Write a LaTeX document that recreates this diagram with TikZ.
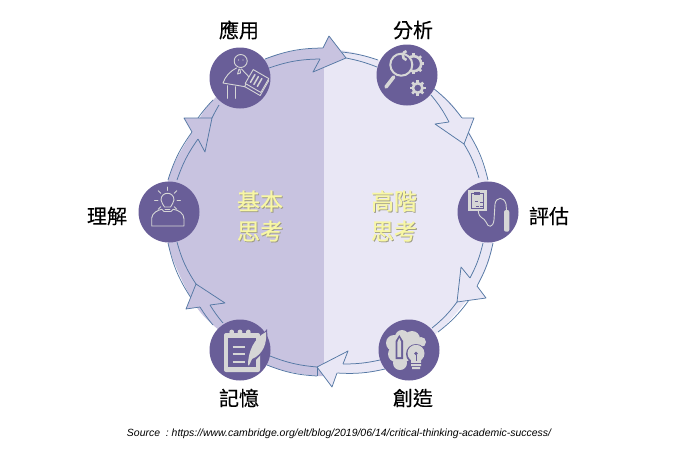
\documentclass[tikz,border=0pt]{standalone}
\usepackage{fontspec}
\usetikzlibrary{calc}
\setmainfont{Liberation Sans}
\newfontfamily\cjk[FakeBold=0.3]{Noto Sans CJK TC}
\newfontfamily\cjkthick[FakeBold=0.8]{Noto Sans CJK TC}
\definecolor{basicpurple}{HTML}{C8C3E0}
\definecolor{higherpurple}{HTML}{E9E7F5}
\definecolor{stagepurple}{HTML}{695E98}
\definecolor{ringblue}{HTML}{5578A4}
\definecolor{icongray}{HTML}{D6D6D6}
\definecolor{thinkyellow}{HTML}{F8F7A4}
\definecolor{thinkshadow}{HTML}{A09E88}
\tikzset{
  stage/.style={circle, fill=stagepurple, minimum size=61pt, inner sep=0pt},
  stagelabel/.style={font=\cjk\fontsize{20}{20}\selectfont, text=black, inner sep=0pt},
  think/.style={font=\cjkthick\fontsize{23}{30}\selectfont, align=center, inner sep=0pt},
  ringline/.style={draw=ringblue, line width=0.75pt},
  iconline/.style={draw=icongray, line width=0.9pt, line cap=round, line join=round},
}
\begin{document}
\begin{tikzpicture}[x=1pt,y=-1pt]
    \useasboundingbox (0,0) rectangle (700,461);

    % Points on the ring, o = outer line, i = inner line
    \foreach \n/\x/\y in {
        o1/265/59, o2/323/48, o3/342/52, o4/378/60, o5/433/88, o6/462/118,
        o7/468/132, o8/488/180, o9/493/243, o10/477/286, o11/469/300, o12/438/332,
        o13/385/369, o14/337/373, o15/317/376, o16/267/365, o17/213/325, o18/200/307,
        o19/191/298, o20/168/243, o21/168/180, o22/192/132, o23/198/118, o24/213/100,
        i1/269/68, i2/320/59, i3/346/58, i4/377/67, i5/431/95, i6/449/122,
        i7/464/144, i8/479/178, i9/483/243, i10/470/278, i11/457/302, i12/432/328,
        i13/380/360, i14/343/364, i15/317/367, i16/270/356, i17/223/323, i18/210/305,
        i19/196/284, i20/177/242, i21/177/180, i22/198/139, i23/212/118, i24/219/105,
        Aw/329/36, Av/313/72, Bw/474/118, Bv/435/124, Cw/486/298, Cv/461/267,
        Dw/332/387, Dv/348/351, Ew/186/309, Ev/225/303, Fw/184/118, Fv/205/152}
        \coordinate (\n) at (\x,\y);

    % Two halves of the disc
    \begin{scope}
        \clip (0,0) rectangle (324,461);
        \fill[basicpurple] plot[smooth cycle, tension=0.5] coordinates {(o1) (o2) (o4) (o5) (o6) (o8) (o9) (o10) (o12) (o13) (o14) (o15) (o16) (o17) (o19) (o20) (o21) (o22) (o24)};
    \end{scope}
    \begin{scope}
        \clip (324,0) rectangle (700,461);
        \fill[higherpurple] plot[smooth cycle, tension=0.5] coordinates {(o1) (o2) (o4) (o5) (o6) (o8) (o9) (o10) (o12) (o13) (o14) (o15) (o16) (o17) (o19) (o20) (o21) (o22) (o24)};
    \end{scope}

    % Ring lines
    \foreach \a/\b/\t in {o1/o2/10, o3/o4/6, o5/o6/7, o7/o8/9, o9/o10/8, o11/o12/8,
        o13/o14/8, o15/o16/9, o17/o18/4, o19/o20/10, o21/o22/9, o23/o24/4,
        i1/i2/9, i3/i4/5, i5/i6/6, i7/i8/7, i9/i10/7, i11/i12/7,
        i13/i14/6, i15/i16/8, i17/i18/4, i19/i20/9, i21/i22/8, i23/i24/2}
        \draw[ringline] (\a) to[bend left=\t] (\b);
    \draw[ringline] (o15) -- (i15);

    % Arrow heads
    \foreach \on/\w/\tip/\v/\ni/\col in {
        o2/Aw/i3/Av/i2/basicpurple, o6/Bw/i7/Bv/i6/higherpurple,
        o10/Cw/i11/Cv/i10/higherpurple, o14/Dw/i15/Dv/i14/higherpurple,
        o18/Ew/i19/Ev/i18/basicpurple, o22/Fw/i23/Fv/i22/basicpurple} {
        \fill[\col] (\on) -- (\w) -- (\tip) -- (\v) -- (\ni) -- cycle;
        \draw[ringline, line join=round] (\on) -- (\w) -- (\tip) -- (\v) -- (\ni);
    }

    % Stages
    \node[stage] (apply) at (240,78) {};
    \node[stage] (analyze) at (407,75) {};
    \node[stage] (evaluate) at (488,212) {};
    \node[stage] (create) at (409,350) {};
    \node[stage] (remember) at (240,350) {};
    \node[stage] (understand) at (169,212) {};

    \node[stagelabel] (applylabel) at (239,30) {應用};
    \node[stagelabel] (analyzelabel) at (413,30) {分析};
    \node[stagelabel] (evaluatelabel) at (549,216) {評估};
    \node[stagelabel] (createlabel) at (413,398) {創造};
    \node[stagelabel] (rememberlabel) at (239,398) {記憶};
    \node[stagelabel] (understandlabel) at (107,216) {理解};

    % Person with papers
    \begin{scope}[shift={(apply)}]
        \draw[iconline] (0.7,-17) circle (6.5);
        \fill[icongray] (-1.5,-18) circle (0.6) (3,-18) circle (0.6);
        \draw[iconline] (-3.5,-10) .. controls (-10,-7) and (-15,-1) .. (-17,5) -- (7,9);
        \draw[iconline] (1.5,-9) -- (10,0);
        \draw[iconline] (-1,-9) -- (-2.5,-4) -- (0.5,-5) -- (0,-9);
        \draw[iconline] (-12.3,7.7) -- (-12.3,20.3) (-5,8.7) -- (-5,20.3);
        \begin{scope}[shift={(17,3)}, rotate=-30]
            \draw[iconline, fill=stagepurple] (-8,-6) rectangle (10,11);
            \draw[iconline, fill=stagepurple] (-9,-8) rectangle (9,8);
            \foreach \x in {-5,-1,3}
                \draw[iconline, line width=1.5pt] (\x,-4.5) -- (\x,4.5);
        \end{scope}
    \end{scope}

    % Magnifier and gears
    \begin{scope}[shift={(analyze)}]
        \foreach \gx/\gy/\r in {6.7/-11.3/7.5, 10.7/13/4.8} {
            \begin{scope}[shift={(\gx,\gy)}]
                \draw[icongray, line width=2.6pt] (0,0) circle (\r);
                \foreach \a in {0,45,...,315}
                    \draw[icongray, line width=2.6pt] (\a:\r) -- (\a:\r+3);
            \end{scope}
        }
        \fill[stagepurple] (-5.7,-10.3) circle (11);
        \draw[icongray, line width=2pt] (-5.7,-10.3) circle (11);
        \draw[icongray, line width=2.6pt] (-0.5,-15) arc (100:260:4.5);
        \draw[icongray, line width=3.6pt, line cap=round] (-13.3,2) -- (-21,12);
    \end{scope}

    % Meter with cable
    \begin{scope}[shift={(evaluate)}]
        \fill[icongray] (-20.3,-22) rectangle (-1.3,-1);
        \draw[stagepurple, line width=0.8pt] (-16.5,-18.5) rectangle (-5,-3.5);
        \fill[stagepurple] (-14,-20) rectangle (-8,-17);
        \foreach \x/\y in {-13/-11, -8/-10, -12/-6, -8/-6}
            \fill[stagepurple] (\x,\y) rectangle ++(2.5,1);
        \draw[iconline] (-9.7,-1) .. controls (-9,7) and (-4,5) .. (-2,10) .. controls (0,16) and (5,16) .. (6,8) -- (7,-8) .. controls (8,-15) and (16,-16) .. (18,-8) -- (18.5,-2);
        \fill[icongray, rounded corners=2pt] (16,-2) rectangle (21.3,19.7);
    \end{scope}

    % Brain, pencil and bulb
    \begin{scope}[shift={(create)}]
        \fill[icongray] (-15,-7) circle (8) (-7,-13) circle (7) (3,-11) circle (8) (-13,4) circle (8) (-9,13) circle (7) (-2,0) circle (11) (12,-8) circle (5);
        \fill[stagepurple] (7,4) circle (10);
        \fill[stagepurple] (-9.7,-15) -- (-6,-9) -- (-6,9) -- (-13.4,9) -- (-13.4,-9) -- cycle;
        \fill[icongray] (-9.7,-12) -- (-7.8,-8) -- (-7.8,7) -- (-11.6,7) -- (-11.6,-8) -- cycle;
        \fill[icongray] (7,3.3) circle (8.5);
        \fill[icongray] (2,10) rectangle (12,16) (3,17) rectangle (11,19);
        \fill[stagepurple] (7,3.5) circle (1.8);
        \draw[stagepurple, line width=0.8pt] (7,5) -- (7,11);
        \draw[stagepurple, line width=0.8pt] (1,13) -- (13,13);
    \end{scope}

    % Notepad and feather
    \begin{scope}[shift={(remember)}]
        \fill[icongray, rounded corners=2pt] (-16,-17) rectangle (20,22);
        \fill[stagepurple] (-12,-12) rectangle (16,17);
        \foreach \x in {-8.3,0,8.3}
            \fill[icongray] (\x,-18) circle (2.4);
        \foreach \y in {-3.3,4,11.7}
            \draw[icongray, line width=2.2pt] (-7.3,\y) -- (5,\y);
        \fill[stagepurple] (7,16) -- (8,2) -- (27,-21) -- (28,-3) -- (12,14) -- cycle;
        \fill[icongray] (8,15) .. controls (8,2) and (14,-12) .. (26,-18) .. controls (27,-8) and (24,4) .. (12,9) -- (9,15.5) -- cycle;
    \end{scope}

    % Head with a bulb
    \begin{scope}[shift={(understand)}]
        \draw[iconline] (-17.3,14) -- (-17.3,6) .. controls (-17,1) and (-11,-2) .. (-7.3,-2.7) -- (-5,-0.5) -- (2,-0.5) -- (4.3,-2.7) .. controls (9,-2) and (15,1) .. (15,7) -- (15,14) -- cycle;
        \draw[iconline] (-4.5,-5) .. controls (-5,-7) and (-8,-9) .. (-8,-12) .. controls (-8,-21) and (5,-21) .. (5,-12) .. controls (5,-9) and (2,-7) .. (1.5,-5) -- cycle;
        \draw[iconline] (-4,-3) -- (1,-3);
        \foreach \a in {180,225,270,315,0,135,45}
            \draw[iconline] ($(-1.5,-12)+(\a:9.5)$) -- ($(-1.5,-12)+(\a:13)$);
    \end{scope}

    % Text in the two halves
    \foreach \n/\x/\txt in {basic/260/{基本\\思考}, higher/394/{高階\\思考}} {
        \node[think, text=thinkshadow] (\n shadow) at (\x+0.9,216.9) {\txt};
        \node[think, text=thinkyellow] (\n) at (\x,216) {\txt};
    }

    \node[font=\itshape\fontsize{10.45}{12}\selectfont, inner sep=0pt] (source) at (339,434) {Source\ \ :\ https://www.cambridge.org/elt/blog/2019/06/14/critical-thinking-academic-success/};
\end{tikzpicture}
\end{document}
